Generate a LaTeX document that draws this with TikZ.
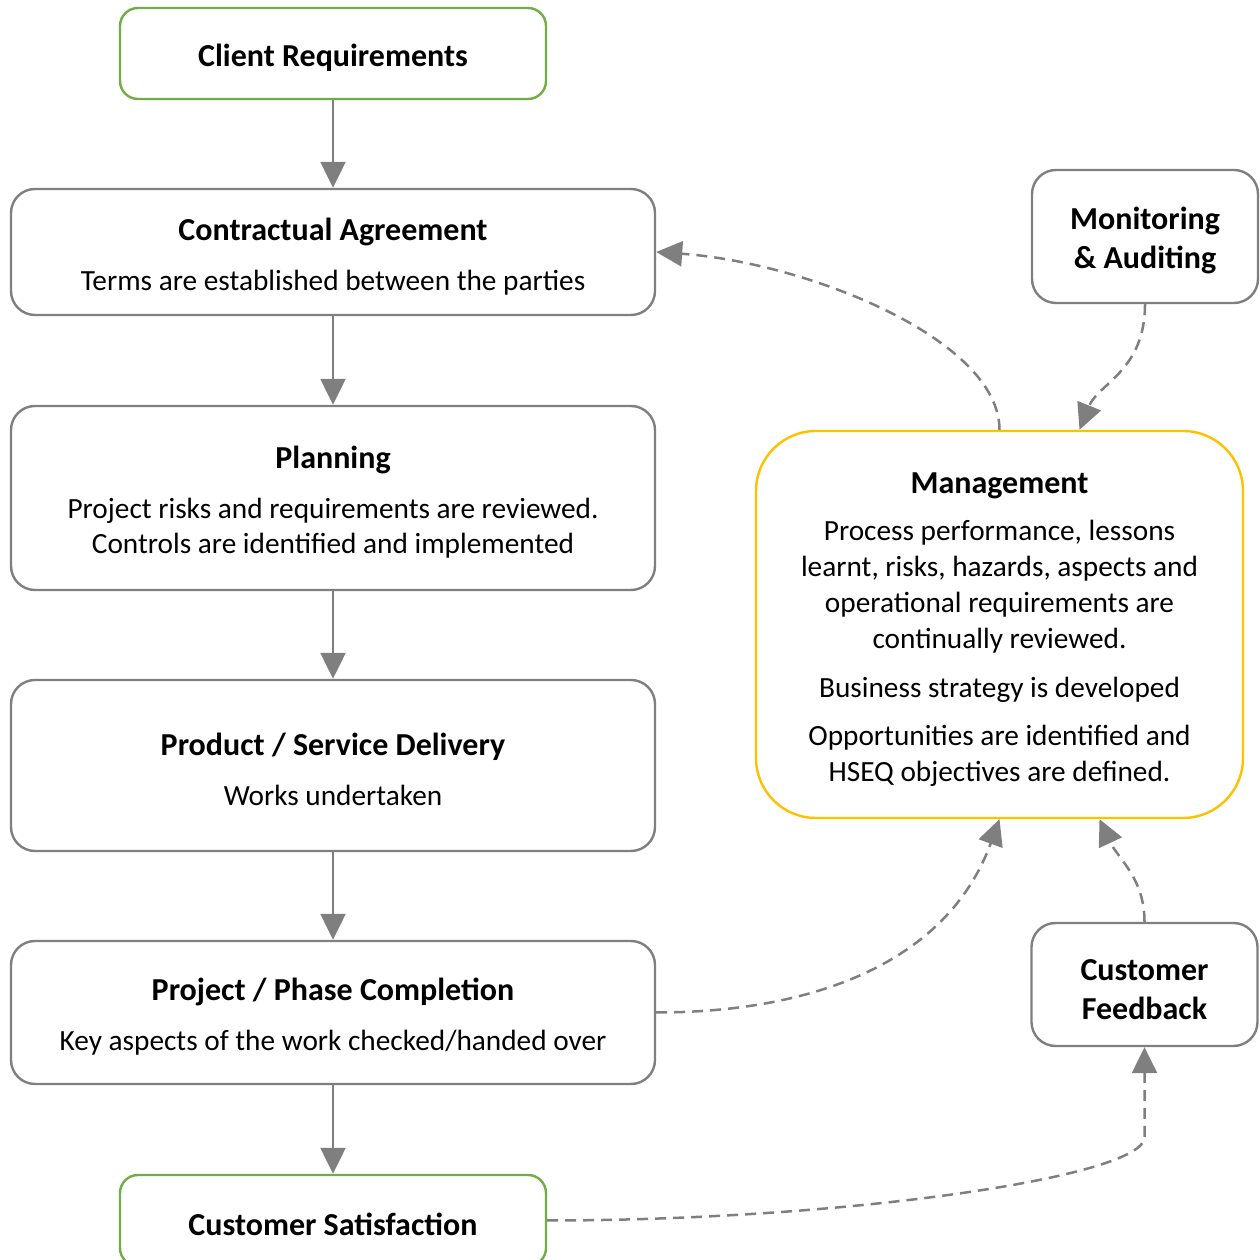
\documentclass[tikz,border=0pt]{standalone}
\usepackage{fontspec}
\setmainfont{Carlito}
\usepackage{tikz}
\usetikzlibrary{arrows.meta,positioning}
\definecolor{lcol}{RGB}{127,127,127}
\definecolor{gcol}{RGB}{112,173,71}
\definecolor{ycol}{RGB}{255,192,0}
\newcommand{\ttl}[1]{{\fontsize{32}{39}\selectfont\bfseries\rule{0pt}{31pt}#1}}

\begin{document}
\begin{tikzpicture}[x=1pt, y=1pt, >={Triangle[length=26pt,width=25pt]},
  box/.style={draw=lcol, line width=2.4pt, rounded corners=24pt, align=center,
    minimum width=644pt, inner sep=0pt, font=\fontsize{29.3}{35.8}\selectfont},
  endbox/.style={box, draw=gcol, rounded corners=18pt, minimum width=426pt, minimum height=91pt},
  sidebox/.style={box, minimum width=226pt, font=\fontsize{32}{39}\selectfont\bfseries},
  flow/.style={->, draw=lcol, line width=2.4pt},
  link/.style={flow, line width=2.5pt, dash pattern=on 11pt off 7pt}]
\useasboundingbox (0,0) rectangle (1260,1260);

% main chain
\node[endbox] (client) at (333,1206.5) {\ttl{Client Requirements}};
\node[box, minimum height=126pt] (contract) at (333,1008)
  {\ttl{Contractual Agreement}\\[14pt] Terms are established between the parties};
\node[box, minimum height=184pt] (plan) at (333,762)
  {\ttl{Planning}\\[14pt] Project risks and requirements are reviewed.\\ Controls are identified and implemented};
\node[box, minimum height=171pt] (deliv) at (333,494.5)
  {\ttl{Product / Service Delivery}\\[14pt] Works undertaken};
\node[box, minimum height=143pt] (compl) at (333,247.5)
  {\ttl{Project / Phase Completion}\\[14pt] Key aspects of the work checked/handed over};
\node[endbox] (satisf) at (333,39.5) {\ttl{Customer Satisfaction}};

% right side
\node[sidebox, minimum height=133pt] (monit) at (1145,1023.5) {\rule{0pt}{31pt}Monitoring\\\& Auditing};
\node[box, draw=ycol, rounded corners=60pt, minimum width=487pt, minimum height=387pt] (mgmt) at (999.5,635.5)
  {\ttl{Management}\\[12pt] Process performance, lessons\\ learnt, risks, hazards, aspects and\\
   operational requirements are\\ continually reviewed.\\[13pt] Business strategy is developed\\[13pt]
   Opportunities are identified and\\ HSEQ objectives are defined.};
\node[sidebox, minimum height=123pt] (feedb) at (1144.5,275.5) {\rule{0pt}{31pt}Customer\\Feedback};

\draw[flow] (client) -- (contract);
\draw[flow] (contract) -- (plan);
\draw[flow] (plan) -- (deliv);
\draw[flow] (deliv) -- (compl);
\draw[flow] (compl) -- (satisf);

% feedback loops
\draw[link] (mgmt.north) to[out=90, in=-4, out looseness=0.6, in looseness=1] (contract.east);
\draw[link] (monit.south) to[out=-90, in=68, out looseness=1.2, in looseness=0.9] ([xshift=80pt]mgmt.north);
\draw[link] (compl.east) to[out=0, in=-110] (mgmt.south);
\draw[link] (feedb.north) to[out=90, in=-65] ([xshift=100pt]mgmt.south);
\draw[link] (satisf.east) to[out=0, in=-90, out looseness=1.25, in looseness=0.17] ([yshift=-90pt]feedb.south) -- (feedb.south);
\end{tikzpicture}
\end{document}
